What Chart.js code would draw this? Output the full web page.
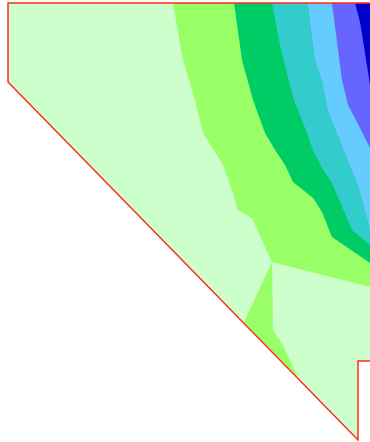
<!DOCTYPE html>
<html>
<head>
<meta charset="utf-8">
<script src="https://cdn.jsdelivr.net/npm/chart.js@4/dist/chart.umd.min.js"></script>
<style>
html,body{margin:0;padding:0;background:#ffffff;}
#wrap{width:370px;height:442px;position:relative;}
</style>
</head>
<body>
<div id="wrap"><canvas id="c"></canvas></div>
<script>
// Outline of the region (data coordinates)
const outline = [[370,3],[8,3],[8,82],[358,440],[358,361],[370,361]];
const baseRegion = [[8,3],[370,3],[370,361],[358,361],[358,440],[8,82]];

// Contour lines (from top edge down to right edge)
const contourA = [[173,3],[183,60],[195,100],[203,133],[220,160],[223,165],[232,190],[238,210],[252,218],[272,262],[370,287]];
const pocketA = [[272,262],[244,322],[298,378],[283,345],[273,330]];
const contourB = [[234,3],[242,60],[253,100],[265,133],[275,150],[285,165],[293,182],[313,198],[322,212],[332,237],[370,263]];
const contourC = [[272,3],[280,45],[288,78],[294,100],[307,133],[313,150],[322,168],[332,183],[352,230],[370,245]];
const contourD = [[308,3],[315,60],[322,80],[328,110],[337,133],[345,153],[358,185],[370,228]];
const contourE = [[332,3],[338,50],[342,80],[348,105],[360,128],[370,148]];
const contourF = [[355,3],[360,22],[365,53],[370,85]];

const bandColors = ['#ccffcc','#99ff66','#00cc66','#33cccc','#66ccff','#6666ff','#0000cc'];

function pts(a){ return a.map(p => ({x:p[0], y:p[1]})); }
function regionRightOf(c){ return pts(c.concat([[370,c[c.length-1][1]],[370,3]])); }

function area(data, color, order){
  return {data: data, showLine: true, fill: 'shape', backgroundColor: color,
    borderColor: color, borderWidth: 0, pointRadius: 0, pointHoverRadius: 0, order: order, tension: 0};
}

const datasets = [
  {data: pts(outline), showLine: true, fill: false, borderColor: '#ff2a1a', borderWidth: 1.5,
   pointRadius: 0, pointHoverRadius: 0, order: 0, tension: 0},
  area(regionRightOf(contourF), bandColors[6], 1),
  area(regionRightOf(contourE), bandColors[5], 2),
  area(regionRightOf(contourD), bandColors[4], 3),
  area(regionRightOf(contourC), bandColors[3], 4),
  area(regionRightOf(contourB), bandColors[2], 5),
  area(regionRightOf(contourA), bandColors[1], 6),
  area(pts(pocketA), bandColors[1], 6),
  area(pts(baseRegion), bandColors[0], 8)
];

new Chart(document.getElementById('c'), {
  type: 'scatter',
  data: {datasets: datasets},
  options: {
    responsive: true,
    maintainAspectRatio: false,
    animation: false,
    layout: {padding: 0},
    plugins: {legend: {display: false}, tooltip: {enabled: false}},
    scales: {
      x: {type: 'linear', min: 0, max: 370, display: false},
      y: {type: 'linear', min: 0, max: 442, reverse: true, display: false}
    }
  }
});
</script>
</body>
</html>
